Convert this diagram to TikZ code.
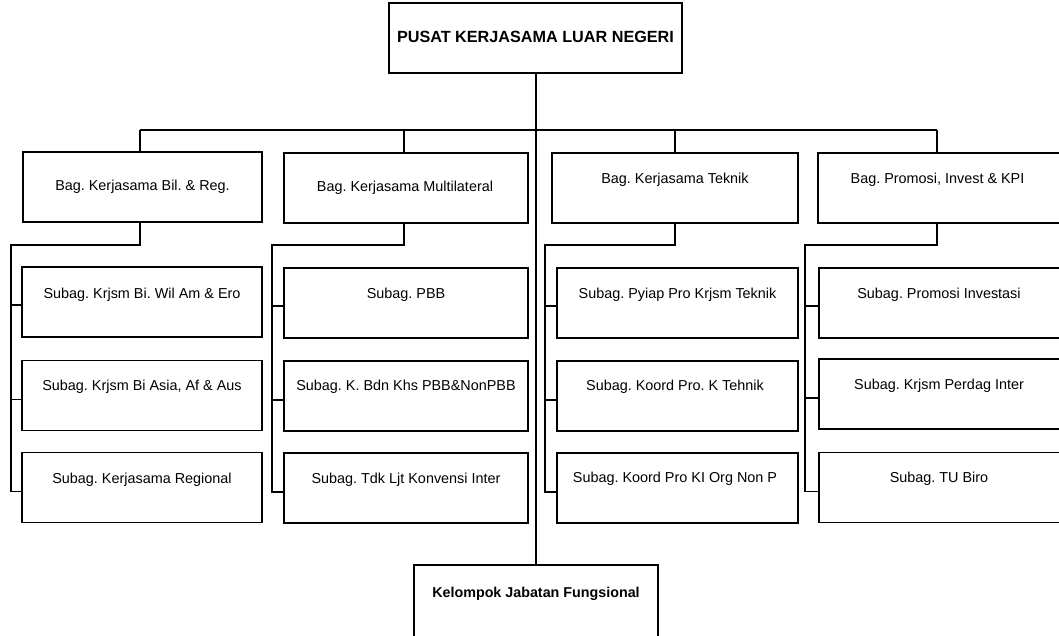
\documentclass[tikz,border=0pt]{standalone}
\usepackage{fontspec}
\setmainfont{Liberation Sans}
\frenchspacing
\begin{document}
\begin{tikzpicture}[x=1pt,y=-1pt,
  box/.style={draw=black,line width=1.1pt,rectangle,inner sep=0pt,minimum height=70pt},
  lbl/.style={inner sep=0pt,font=\frenchspacing\fontsize{14.4}{16}\selectfont},
  conn/.style={draw=black,line width=1.1pt}]
\useasboundingbox (0,0) rectangle (1059,635);
% top
\node[box,minimum width=293pt] (top) at (535.5,38) {};
\node[lbl,font=\bfseries\fontsize{16.2}{18}\selectfont] (topt) at (535.5,37) {PUSAT KERJASAMA LUAR NEGERI};
% bags
\node[box,minimum width=239pt] (bag1) at (142.5,187) {};
\node[box,minimum width=244pt] (bag2) at (406,188) {};
\node[box,minimum width=246pt] (bag3) at (675,188) {};
\node[box,minimum width=244pt] (bag4) at (940,188) {};
\node[lbl] (bag1t) at (142.5,187) {Bag. Kerjasama Bil. \& Reg.};
\node[lbl] (bag2t) at (405,188) {Bag. Kerjasama Multilateral};
\node[lbl] (bag3t) at (675,180) {Bag. Kerjasama Teknik};
\node[lbl] (bag4t) at (937.5,180) {Bag. Promosi, Invest \& KPI};
% col1
\node[box,minimum width=240pt] (s11) at (142,302) {};
\node[box,minimum width=240pt] (s12) at (142,395.5) {};
\node[box,minimum width=240pt] (s13) at (142,487.5) {};
\node[lbl] (s11t) at (142,295) {Subag. Krjsm Bi. Wil Am \& Ero};
\node[lbl] (s12t) at (142,387) {Subag. Krjsm Bi Asia, Af \& Aus};
\node[lbl] (s13t) at (142,480) {Subag. Kerjasama Regional};
% col2
\node[box,minimum width=244pt] (s21) at (406,303) {};
\node[box,minimum width=244pt] (s22) at (406,396) {};
\node[box,minimum width=244pt] (s23) at (406,488) {};
\node[lbl] (s21t) at (406,295) {Subag. PBB};
\node[lbl] (s22t) at (406,387) {Subag. K. Bdn Khs PBB\&NonPBB};
\node[lbl] (s23t) at (406,480) {Subag. Tdk Ljt Konvensi Inter};
% col3
\node[box,minimum width=241pt] (s31) at (677.5,303) {};
\node[box,minimum width=241pt] (s32) at (677.5,396) {};
\node[box,minimum width=241pt] (s33) at (677.5,488) {};
\node[lbl] (s31t) at (677.5,295) {Subag. Pyiap Pro Krjsm Teknik};
\node[lbl] (s32t) at (675,387) {Subag. Koord Pro. K Tehnik};
\node[lbl] (s33t) at (675,479) {Subag. Koord Pro KI Org Non P};
% col4
\node[box,minimum width=243pt] (s41) at (940.5,303) {};
\node[box,minimum width=243pt] (s42) at (940.5,394) {};
\node[box,minimum width=243pt] (s43) at (940.5,487.5) {};
\node[lbl] (s41t) at (939,295) {Subag. Promosi Investasi};
\node[lbl] (s42t) at (939,386) {Subag. Krjsm Perdag Inter};
\node[lbl] (s43t) at (939,479) {Subag. TU Biro};
% bottom
\node[box,minimum width=244pt,minimum height=75pt] (bot) at (536,602.5) {};
\node[lbl,font=\bfseries\fontsize{14.3}{16}\selectfont] (bott) at (536,594) {Kelompok Jabatan Fungsional};
% connector points
\coordinate (bus) at (536,130);
\coordinate (b1) at (140,130);
\coordinate (b2) at (404,130);
\coordinate (b3) at (675,130);
\coordinate (b4) at (937,130);
\coordinate (l1) at (11,245);
\coordinate (l2) at (272,245);
\coordinate (l3) at (545,245);
\coordinate (l4) at (805,245);
\foreach \c in {1,2,3,4}{
  \coordinate (w\c1) at ([yshift=-3pt]s\c1.west);
  \coordinate (w\c2) at ([yshift=-4pt]s\c2.west);
  \coordinate (w\c3) at ([yshift=-4pt]s\c3.west);
}
% connectors
\draw[conn] (top.south -| bus) -- (bot.north -| bus);
\draw[conn] (b1) -- (b4);
\draw[conn] (b1) -- (b1 |- bag1.north);
\draw[conn] (b2) -- (b2 |- bag2.north);
\draw[conn] (b3) -- (b3 |- bag3.north);
\draw[conn] (b4) -- (b4 |- bag4.north);
\draw[conn] (b1 |- bag1.south) -- (b1 |- l1) -- (l1) -- (l1 |- w13) -- (w13);
\draw[conn] (w11) -- (w11 -| l1);
\draw[conn] (w12) -- (w12 -| l1);
\draw[conn] (b2 |- bag2.south) -- (b2 |- l2) -- (l2) -- (l2 |- w23) -- (w23);
\draw[conn] (w21) -- (w21 -| l2);
\draw[conn] (w22) -- (w22 -| l2);
\draw[conn] (b3 |- bag3.south) -- (b3 |- l3) -- (l3) -- (l3 |- w33) -- (w33);
\draw[conn] (w31) -- (w31 -| l3);
\draw[conn] (w32) -- (w32 -| l3);
\draw[conn] (b4 |- bag4.south) -- (b4 |- l4) -- (l4) -- (l4 |- w43) -- (w43);
\draw[conn] (w41) -- (w41 -| l4);
\draw[conn] (w42) -- (w42 -| l4);
\end{tikzpicture}
\end{document}
